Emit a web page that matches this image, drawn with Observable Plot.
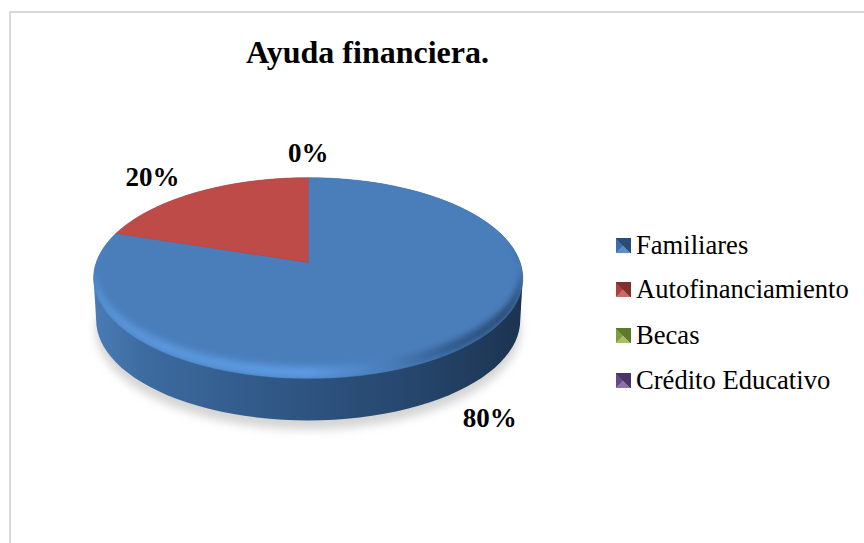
<!DOCTYPE html>
<html><head><meta charset="utf-8">
<script src="https://cdn.jsdelivr.net/npm/d3@7"></script>
<script src="https://cdn.jsdelivr.net/npm/@observablehq/plot@0.6"></script>
<style>
html,body{margin:0;padding:0;background:#fff}
#chart{position:relative;width:864px;height:543px;overflow:hidden;font-family:"Liberation Serif",serif;color:#000}
#chart svg{position:absolute;left:0;top:0}
#frame{position:absolute;left:9px;top:11px;width:900px;height:600px;border:2px solid #d9d9d9}
#title{position:absolute;left:246px;top:33px;font-weight:bold;font-size:32px;line-height:38px;white-space:nowrap}
.row{position:absolute;left:616px;height:30px;display:flex;align-items:center;font-size:26.6px;white-space:nowrap}
.sw{width:15px;height:15px;margin-right:5px;flex:none}
</style></head><body><div id="chart"><div id="frame"></div><div id="title"></div></div>
<script>
const titleText = "Ayuda financiera.";
const categories = ["Familiares", "Autofinanciamiento", "Becas", "Crédito Educativo"];
const shares = [80, 20, 0, 0];
const colors = ["#4a7ebb", "#be4b48", "#98b954", "#7d60a0"];
const swatchEdge = [["#2a4d78","#3f6ea6","#5d8cc4"],["#7f302e","#a8423f","#c96a67"],["#5f7a2d","#7f9c3f","#a3c062"],["#4a3566","#654a86","#8a72aa"]];
const legendRows = [230, 274, 320, 365];
const labelShifts = [[39, 65], [-45, -15], [0, -24], [0, -24]];

// pie geometry, in picture units
const cx = 307.7, cy = 262, a = 212, b = 98, k = 0.155, depth = 42;
const project = (ang, r = 1) => {
  const X = r * Math.sin(ang), Y = r * Math.cos(ang), d = 1 + k * Y;
  return {x: cx + a * X / d, y: cy - b * Y / d};
};
const arcPts = (from, to) => d3.range(0, 121).map(i => project(from + (to - from) * i / 120));
const total = d3.sum(shares);
let start = 0;
const slices = categories.map((name, i) => {
  const ang = shares[i] / total * 2 * Math.PI;
  const s = {name, i, from: start, to: start + ang, mid: start + ang / 2};
  start += ang;
  return s;
});
const slicePts = slices.filter(s => s.to > s.from).flatMap(s =>
  [{x: cx, y: cy}, ...arcPts(s.from, s.to)].map(p => ({...p, name: s.name})));
const rimLoop = arcPts(0, 2 * Math.PI);
// silhouette of the wall: the top outline and the same outline lowered
const wallPts = [...rimLoop.map(p => ({x: p.x, y: p.y})), ...rimLoop.map(p => ({x: p.x - (p.x - cx) * 0.012, y: p.y + depth}))];
const hull = d3.polygonHull(wallPts.map(p => [p.x, p.y])).map(([x, y]) => ({x, y}));
const shadow = rimLoop.map(p => ({x: cx + (p.x - cx) * 0.99, y: p.y + depth + 9}));
// bevel: a crescent along the front of the top outline, tapering to nothing at its ends
const rimFrom = 80 * Math.PI / 180, rimTo = 280 * Math.PI / 180;
const rimOuter = arcPts(rimFrom, rimTo);
const rimInner = rimOuter.map((p, i) => {
  const w = Math.sqrt(Math.sin(Math.PI * i / 120));
  return {x: cx + (p.x - cx) * (1 - 0.012 * w), y: p.y - 12 * w};
}).reverse();
const rimPts = [...rimOuter, ...rimInner];

const defsMark = () => {
  const svg = d3.create("svg:g");
  const defs = svg.append("defs");
  const grad = (id, stops) => {
    const g = defs.append("linearGradient").attr("id", id).attr("gradientUnits", "userSpaceOnUse")
      .attr("x1", 92).attr("x2", 522).attr("y1", 0).attr("y2", 0);
    stops.forEach(([o, c]) => g.append("stop").attr("offset", o).attr("stop-color", c));
  };
  grad("wallG", [[0, "#4a7cb5"], [0.12, "#3d6ba0"], [0.45, "#2f5684"], [0.75, "#26466c"], [1, "#1c3350"]]);
  grad("rimG", [[0, "#5a95da"], [0.5, "#5b9ae2"], [0.68, "#4a7ebb"], [0.85, "#30588a"], [1, "#24446a"]]);
  const f = (id, s) => defs.append("filter").attr("id", id).attr("x", "-10%").attr("y", "-10%").attr("width", "120%").attr("height", "120%")
    .append("feGaussianBlur").attr("stdDeviation", s);
  f("soft", 5); f("rimSoft", 3.2);
  defs.append("clipPath").attr("id", "topClip").append("polygon")
    .attr("points", rimLoop.map(p => `${p.x},${p.y}`).join(" "));
  return svg.node();
};
const blurred = (i, s, v, d, c, next) => {
  const g = next(i, s, v, d, c);
  g.setAttribute("filter", "url(#soft)");
  return g;
};
const bevelled = (i, s, v, d, c, next) => {
  const g = next(i, s, v, d, c);
  g.querySelectorAll("path").forEach(p => p.setAttribute("filter", "url(#rimSoft)"));
  g.setAttribute("clip-path", "url(#topClip)");
  return g;
};

const plot = Plot.plot({
  width: 864, height: 543, margin: 0,
  style: {background: "transparent"},
  x: {domain: [0, 864], range: [0, 864], axis: null},
  y: {domain: [0, 543], range: [0, 543], axis: null},
  color: {domain: categories, range: colors},
  marks: [
    defsMark,
    Plot.line(shadow, {x: "x", y: "y", fill: "#d4d4d4", stroke: "none", render: blurred}),
    Plot.line([...hull, hull[0]], {x: "x", y: "y", fill: "url(#wallG)", stroke: "none"}),
    Plot.line(slicePts, {x: "x", y: "y", z: "name", fill: "name", stroke: "name", strokeWidth: 0.5, curve: "linear-closed"}),
    Plot.line(rimPts, {x: "x", y: "y", fill: "url(#rimG)", stroke: "none", curve: "linear-closed", render: bevelled}),
    ...slices.slice(0, 3).map((s, i) => {
      const p = project(s.mid);
      return Plot.text([`${shares[i]}%`], {
        x: () => p.x, y: () => p.y, text: d => d,
        dx: labelShifts[i][0], dy: labelShifts[i][1],
        fontSize: 27, fontWeight: "bold", fontFamily: "Liberation Serif", fill: "#000"
      });
    })
  ]
});
const chart = document.getElementById("chart");
chart.appendChild(plot);
document.getElementById("title").textContent = titleText;
categories.forEach((name, i) => {
  const row = document.createElement("div");
  row.className = "row";
  row.style.top = legendRows[i] + "px";
  const [dark, mid, light] = swatchEdge[i];
  row.innerHTML = `<span class="sw" style="background:conic-gradient(from 45deg, ${dark} 0 25%, ${light} 25% 50%, ${mid} 50% 75%, ${dark} 75% 100%)"></span><span></span>`;
  row.lastChild.textContent = name;
  chart.appendChild(row);
});
</script></body></html>
